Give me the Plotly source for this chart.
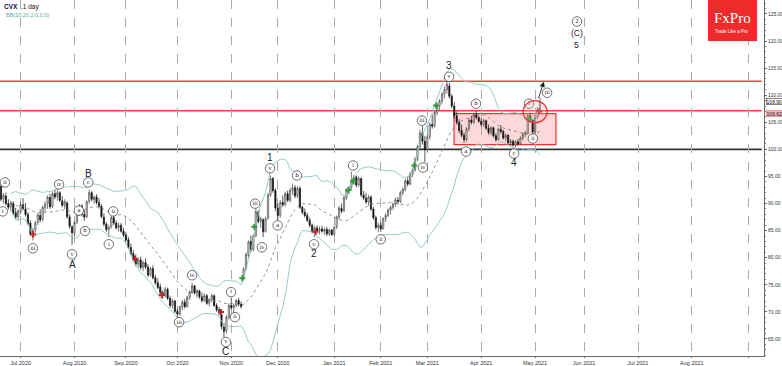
import plotly.graph_objects as go
import pandas as pd

# ---------------- DATA ----------------
opens = [93.2, 90.8, 91.4, 90.0, 89.4, 90.0, 88.3, 87.6, 88.5, 89.8,
         89.0, 88.0, 86.4, 84.3, 85.1, 86.5, 87.8, 87.0, 89.2, 89.9,
         91.1, 89.5, 91.8, 91.3, 92.0, 90.5, 89.6, 90.1, 87.5, 85.7,
         84.5, 86.6, 88.6, 89.5, 88.0, 87.6, 90.4, 92.0, 90.7, 91.2,
         90.2, 89.5, 87.5, 86.2, 85.2, 85.7, 87.4, 86.4, 85.6, 86.0,
         84.9, 84.2, 83.3, 81.9, 80.8, 79.8, 78.9, 79.6, 78.2, 79.1,
         78.3, 76.9, 78.0, 76.3, 75.4, 74.6, 73.6, 73.0, 74.2, 72.5,
         71.2, 72.0, 70.1, 69.6, 70.9, 71.8, 71.0, 72.7, 73.7, 74.8,
         73.5, 73.9, 72.8, 72.1, 73.0, 71.6, 72.2, 73.0, 71.2, 70.4,
         69.5, 67.2, 66.5, 69.0, 71.2, 70.8, 71.2, 72.1, 71.4, 76.4,
         78.0, 80.5, 83.0, 81.5, 84.0, 88.4, 86.7, 87.0, 84.9, 87.3,
         91.6, 94.6, 92.4, 89.2, 87.8, 90.2, 89.8, 91.8, 90.6, 92.4,
         92.9, 91.4, 92.8, 89.3, 88.4, 87.8, 86.9, 86.0, 84.8, 85.5,
         85.0, 85.3, 84.9, 85.2, 84.4, 85.1, 84.3, 85.7, 87.5, 89.1,
         88.7, 91.1, 92.4, 93.0, 94.2, 94.9, 93.4, 94.6, 91.6, 91.0,
         90.3, 91.2, 89.0, 87.4, 85.6, 86.0, 85.4, 87.2, 87.8, 88.8,
         89.3, 89.9, 90.6, 90.4, 92.0, 92.6, 94.2, 93.6, 95.5, 96.2,
         98.2, 100.5, 103.0, 101.5, 100.0, 102.3, 104.6, 104.3, 106.8, 108.0,
         108.9, 110.2, 111.0, 111.7, 109.8, 108.0, 106.2, 105.0, 103.5, 102.6,
         101.8, 103.8, 105.4, 105.0, 106.4, 105.9, 105.2, 104.6, 105.3, 103.9,
         103.1, 104.0, 102.5, 101.8, 103.7, 103.3, 102.1, 102.6, 101.2, 101.5,
         100.8, 101.4, 101.0, 102.1, 102.8, 103.0, 106.2, 105.4, 103.2, 106.0,
         107.4]
highs = [93.8, 91.9, 92.0, 90.8, 90.5, 90.4, 89.2, 88.9, 90.3, 91.0,
         90.1, 88.4, 86.9, 85.5, 86.8, 88.2, 88.9, 89.6, 90.4, 91.5,
         91.8, 92.2, 92.7, 92.6, 92.3, 91.4, 90.8, 90.4, 88.0, 86.0,
         86.8, 88.9, 89.9, 89.9, 88.8, 90.6, 92.6, 92.3, 91.5, 91.7,
         91.0, 89.9, 88.2, 86.6, 86.0, 87.8, 88.0, 86.9, 86.5, 86.4,
         85.5, 84.8, 83.8, 82.6, 81.4, 80.6, 80.0, 80.2, 79.5, 79.9,
         78.8, 78.3, 78.6, 76.9, 76.2, 75.2, 74.0, 74.6, 74.5, 73.0,
         72.4, 72.2, 70.6, 71.2, 72.2, 72.4, 73.0, 74.0, 75.4, 75.0,
         74.2, 74.1, 73.6, 73.4, 73.3, 72.5, 73.4, 73.2, 71.6, 70.9,
         69.8, 68.0, 69.4, 71.6, 72.6, 71.5, 72.4, 72.6, 71.9, 78.3,
         81.0, 83.2, 84.1, 84.4, 89.0, 88.8, 87.6, 87.3, 87.6, 92.0,
         95.2, 94.9, 92.8, 90.0, 90.6, 91.5, 92.2, 92.4, 92.9, 93.7,
         93.4, 93.2, 93.2, 89.6, 89.1, 88.3, 87.4, 86.3, 85.9, 86.0,
         85.8, 85.9, 85.6, 85.7, 85.4, 85.3, 85.9, 87.8, 89.6, 90.0,
         91.5, 92.8, 93.3, 95.9, 95.3, 95.1, 95.0, 94.8, 92.3, 92.0,
         91.6, 91.5, 89.4, 87.8, 86.5, 86.6, 87.5, 88.2, 89.1, 89.6,
         90.2, 91.1, 91.2, 92.4, 93.0, 94.6, 95.0, 95.8, 96.6, 98.6,
         100.9, 103.6, 104.3, 102.5, 102.8, 105.0, 106.4, 107.1, 108.6, 109.3,
         110.6, 111.6, 112.6, 112.3, 110.2, 108.7, 107.0, 105.6, 104.6, 103.1,
         104.1, 105.8, 106.2, 106.8, 107.2, 106.2, 105.8, 105.6, 105.5, 104.6,
         104.3, 104.2, 103.0, 104.0, 104.5, 103.6, 102.9, 102.8, 101.9, 101.8,
         101.7, 101.9, 102.4, 103.2, 103.4, 106.6, 106.8, 105.6, 106.4, 107.8,
         109.6]
lows = [90.4, 90.0, 89.6, 88.9, 88.6, 87.8, 87.1, 86.9, 88.0, 88.7,
        87.6, 86.0, 84.0, 83.2, 84.6, 86.0, 86.5, 86.7, 88.5, 89.0,
        89.0, 89.2, 90.8, 90.5, 90.3, 89.3, 89.0, 87.2, 85.4, 82.4,
        84.0, 86.2, 87.7, 87.6, 86.8, 87.3, 90.0, 90.4, 89.9, 89.8,
        89.1, 87.3, 85.8, 84.8, 83.8, 85.4, 86.0, 85.2, 84.8, 84.6,
        83.8, 83.0, 81.6, 80.4, 79.3, 78.4, 78.2, 77.8, 77.5, 77.9,
        76.4, 76.5, 76.0, 75.0, 74.2, 73.2, 72.4, 72.6, 72.2, 70.8,
        70.6, 69.8, 68.9, 69.3, 70.3, 70.6, 70.8, 72.2, 73.3, 73.2,
        72.6, 72.4, 71.7, 71.8, 71.3, 71.0, 71.8, 70.9, 70.0, 69.4,
        66.8, 65.3, 66.0, 68.6, 70.4, 69.7, 70.9, 71.0, 70.6, 75.9,
        77.6, 80.0, 81.0, 81.2, 83.8, 86.3, 85.5, 83.8, 84.6, 87.0,
        91.2, 92.0, 88.6, 87.0, 87.4, 89.4, 89.5, 90.3, 90.2, 91.6,
        91.0, 91.0, 89.0, 88.0, 87.4, 86.6, 85.6, 84.5, 83.8, 84.7,
        84.3, 84.6, 84.2, 84.0, 84.0, 84.0, 84.1, 85.3, 87.0, 88.2,
        88.4, 90.6, 91.7, 92.6, 93.5, 93.0, 93.1, 91.2, 90.7, 89.9,
        89.6, 88.6, 87.0, 85.2, 84.7, 84.8, 85.2, 86.6, 87.5, 88.0,
        88.8, 89.4, 89.8, 90.1, 91.5, 92.3, 93.2, 93.4, 94.9, 95.9,
        97.8, 100.0, 100.9, 97.6, 99.6, 101.8, 103.8, 104.0, 106.3, 107.2,
        108.3, 109.4, 110.3, 109.4, 107.6, 105.6, 104.6, 103.0, 102.2, 101.2,
        101.4, 103.3, 104.6, 104.7, 105.5, 104.9, 104.2, 104.1, 103.6, 102.7,
        102.6, 102.2, 101.4, 101.6, 102.9, 101.8, 101.5, 100.9, 100.6, 100.5,
        100.4, 100.7, 100.8, 101.7, 102.3, 102.8, 105.0, 102.6, 103.0, 105.6,
        107.1]
closes = [90.8, 91.5, 90.0, 89.3, 90.1, 88.2, 87.5, 88.6, 89.8, 89.1,
          88.0, 86.3, 84.4, 85.0, 86.4, 87.9, 87.0, 89.3, 89.8, 91.2,
          89.4, 91.8, 91.2, 92.0, 90.6, 89.7, 90.3, 87.6, 85.8, 84.6,
          86.5, 88.5, 89.6, 88.0, 87.5, 90.3, 92.0, 90.8, 91.2, 90.2,
          89.5, 87.6, 86.2, 85.2, 85.6, 87.4, 86.4, 85.5, 86.0, 84.9,
          84.2, 83.3, 81.9, 80.7, 79.8, 78.8, 79.6, 78.2, 79.1, 78.3,
          76.8, 78.0, 76.3, 75.4, 74.5, 73.6, 73.0, 74.2, 72.5, 71.2,
          72.0, 70.1, 69.6, 70.9, 71.8, 71.0, 72.7, 73.7, 74.8, 73.5,
          73.9, 72.8, 72.1, 73.0, 71.6, 72.2, 73.0, 71.2, 70.4, 69.8,
          67.3, 66.4, 69.0, 71.2, 70.8, 71.2, 72.1, 71.4, 71.0, 77.9,
          80.6, 82.9, 81.5, 84.0, 88.5, 86.7, 87.2, 84.8, 87.2, 91.6,
          94.6, 92.4, 89.2, 87.8, 90.2, 89.8, 91.8, 90.6, 92.4, 92.9,
          91.4, 92.8, 89.3, 88.4, 87.8, 86.9, 86.0, 84.8, 85.5, 85.0,
          85.3, 84.9, 85.2, 84.4, 85.1, 84.3, 85.6, 87.5, 89.2, 88.6,
          91.1, 92.4, 92.9, 94.2, 94.9, 93.4, 94.6, 91.6, 91.0, 90.3,
          91.2, 89.0, 87.4, 85.6, 86.0, 85.3, 87.2, 87.8, 88.8, 89.3,
          89.9, 90.7, 90.4, 92.0, 92.6, 94.2, 93.6, 95.5, 96.2, 98.2,
          100.5, 103.0, 101.5, 100.0, 102.3, 104.6, 104.3, 106.8, 108.0, 108.9,
          110.2, 111.0, 112.0, 109.8, 108.0, 106.2, 105.0, 103.5, 102.6, 101.8,
          103.8, 105.4, 105.0, 106.4, 105.9, 105.2, 104.6, 105.3, 103.9, 103.1,
          104.0, 102.5, 101.8, 103.7, 103.3, 102.1, 102.6, 101.2, 101.5, 100.8,
          101.4, 101.0, 102.1, 102.8, 103.0, 106.2, 105.4, 103.2, 106.0, 107.4,
          108.9]
bars = list(range(len(closes)))

# first trading bar of each month (bar index) and labels
month_bars = [8, 30, 51, 72, 94, 113, 136, 155, 174, 196, 218, 238, 260, 282, 305]
month_labels = ["Jul 2020", "Aug 2020", "Sep 2020", "Oct 2020", "Nov 2020", "Dec 2020",
                "Jan 2021", "Feb 2021", "Mar 2021", "Apr 2021", "May 2021", "Jun 2021",
                "Jul 2021", "Aug 2021", ""]

# wave labels (circled minor) : text, bar, price
wave_text = ["ii", "i", "iii", "iv", "v", "a", "b", "c", "i", "ii",
             "iii", "iv", "v", "i", "ii", "iii", "iv", "v", "a", "b", "c",
             "i", "ii", "iii", "iv", "v", "a", "b", "c", "i", "ii", "iii", "2"]
wave_bar = [1.6, 0.7, 13.0, 23.7, 29.0, 31.8, 34.3, 35.6, 44.0, 45.8,
            72.7, 78.0, 91.8, 93.9, 95.5, 103.7, 106.5, 109.8, 112.9, 120.8, 127.8,
            143.7, 155.0, 171.8, 172.2, 182.9, 189.8, 193.9, 209.4, 215.5, 217.1, 222.9, 235.1]
wave_price = [93.9, 88.55, 81.74, 93.52, 80.64, 88.7, 84.93, 93.9, 82.48, 88.55,
              68.1, 76.77, 64.44, 73.65, 69.04, 89.98, 81.93, 96.5, 85.97, 95.18, 82.48,
              97.02, 83.4, 105.3, 96.65, 113.4, 99.6, 108.43, 99.23, 108.43, 101.99, 110.45, 123.6]

# major wave labels
major_text = ["A", "B", "C", "1", "2", "3", "4", "(C)", "5"]
major_bar = [29.0, 35.6, 91.8, 109.8, 127.8, 182.9, 209.4, 235.1, 235.1]
major_price = [78.8, 95.55, 62.6, 98.5, 80.85, 115.4, 97.57, 121.4, 119.3]
major_size = [10, 10, 10, 10, 10, 10, 10, 8.5, 8.5]

# fractal markers
red_bar = [13.1, 54.7, 65.6, 89.8, 128.4, 219.7]
red_price = [84.3, 79.8, 73.1, 70.0, 84.8, 107.0]
green_bar = [98.5, 103.4, 141.8, 143.8, 168.7, 177.6, 215.5]
green_price = [76.2, 85.7, 92.5, 94.1, 97.0, 108.1, 105.7]

# key levels
res_levels = [112.57, 107.14]
sup_level = 100.0
zone_bars = [184.9, 226.5]
zone_prices = [100.88, 106.59]
circle_bar = [213.1, 222.9]
circle_price = [104.94, 108.98]
arrow_from = (219.2, 109.2)
arrow_to = (221.6, 112.5)
last_price = 108.90
level_label = 106.62

# ---------------- FIGURE ----------------
s = pd.Series(closes)
mid = s.rolling(20, min_periods=5).mean()
sd = s.rolling(20, min_periods=5).std(ddof=0)
upper = mid + 2 * sd
lower = mid - 2 * sd

fig = go.Figure()

band_col = "#8cc6c6"
fig.add_trace(go.Scatter(x=bars, y=upper, mode="lines", line=dict(color=band_col, width=0.9), hoverinfo="skip"))
fig.add_trace(go.Scatter(x=bars, y=lower, mode="lines", line=dict(color=band_col, width=0.9), hoverinfo="skip"))
fig.add_trace(go.Scatter(x=bars, y=mid, mode="lines", line=dict(color="#777777", width=0.8, dash="dot"), hoverinfo="skip"))

fig.add_trace(go.Candlestick(
    x=bars, open=opens, high=highs, low=lows, close=closes,
    increasing=dict(line=dict(color="#444444", width=0.7), fillcolor="#ffffff"),
    decreasing=dict(line=dict(color="#111111", width=0.7), fillcolor="#111111"),
    whiskerwidth=0, hoverinfo="skip"))

fig.add_trace(go.Scatter(x=red_bar, y=red_price, mode="markers",
                         marker=dict(symbol="cross", size=5, color="#c0262b", line=dict(width=0))))
fig.add_trace(go.Scatter(x=green_bar, y=green_price, mode="markers",
                         marker=dict(symbol="cross", size=5, color="#2f9e3a", line=dict(width=0))))

fig.add_trace(go.Scatter(x=wave_bar, y=wave_price, mode="markers+text", text=wave_text,
                         textposition="middle center",
                         textfont=dict(family="DejaVu Serif", size=5.5, color="#222222"),
                         marker=dict(symbol="circle", size=9.5, color="white",
                                     line=dict(color="#333333", width=0.7))))

shapes = []
for lv in res_levels:
    shapes.append(dict(type="line", xref="paper", yref="y", x0=0, x1=0.997, y0=lv, y1=lv,
                       line=dict(color="#ff3b3b", width=1.6), layer="below"))
shapes.append(dict(type="line", xref="paper", yref="y", x0=0, x1=0.997, y0=sup_level, y1=sup_level,
                   line=dict(color="#333333", width=1.6), layer="below"))
shapes.append(dict(type="rect", xref="x", yref="y", x0=zone_bars[0], x1=zone_bars[1],
                   y0=zone_prices[0], y1=zone_prices[1],
                   fillcolor="rgba(250,170,170,0.45)", line=dict(color="#ee3333", width=1.2), layer="below"))
shapes.append(dict(type="circle", xref="x", yref="y", x0=circle_bar[0], x1=circle_bar[1],
                   y0=circle_price[0], y1=circle_price[1],
                   fillcolor="rgba(250,170,170,0.25)", line=dict(color="#ee3333", width=1.3)))
# FxPro logo box
shapes.append(dict(type="rect", xref="paper", yref="paper", x0=0.9267, x1=0.9908, y0=0.885, y1=1.0,
                   fillcolor="#ee2a2a", line=dict(width=0)))

annotations = []
for t, bx, py, fs in zip(major_text, major_bar, major_price, major_size):
    annotations.append(dict(x=bx, y=py, xref="x", yref="y", text=t, showarrow=False,
                            font=dict(family="Liberation Sans", size=fs, color="#222222")))
annotations.append(dict(x=arrow_to[0], y=arrow_to[1], ax=arrow_from[0], ay=arrow_from[1],
                        xref="x", yref="y", axref="x", ayref="y", text="", showarrow=True,
                        arrowhead=2, arrowsize=1.2, arrowwidth=0.9, arrowcolor="#222222"))
annotations.append(dict(x=0.003, y=0.998, xref="paper", yref="paper", xanchor="left", yanchor="top",
                        text="<b>CVX</b>  ,1 day", showarrow=False,
                        font=dict(family="Liberation Sans", size=6.5, color="#111111")))
annotations.append(dict(x=0.005, y=0.972, xref="paper", yref="paper", xanchor="left", yanchor="top",
                        text="BB(20,20,2.0,0,0)", showarrow=False,
                        font=dict(family="Liberation Sans", size=5.5, color="#5aa6a6")))
annotations.append(dict(x=0.9587, y=0.95, xref="paper", yref="paper", text="FxPro", showarrow=False,
                        xanchor="center", yanchor="middle",
                        font=dict(family="Liberation Serif", size=15, color="white")))
annotations.append(dict(x=0.9587, y=0.912, xref="paper", yref="paper", text="Trade Like a Pro",
                        xanchor="center", yanchor="middle",
                        showarrow=False, font=dict(family="Liberation Sans", size=4.5, color="white")))
annotations.append(dict(x=1.002, y=last_price, xref="paper", yref="y", xanchor="left", text="108.90",
                        showarrow=False, bgcolor="white", bordercolor="#333333", borderwidth=0.6,
                        borderpad=0, font=dict(family="Liberation Sans", size=5, color="#111111")))
annotations.append(dict(x=1.002, y=level_label, xref="paper", yref="y", xanchor="left", text="106.62",
                        showarrow=False, bgcolor="#f5b8b8", bordercolor="#e08080", borderwidth=0.6,
                        borderpad=0, font=dict(family="Liberation Sans", size=5, color="#111111")))

fig.update_layout(
    width=782, height=366,
    margin=dict(l=0, r=18, t=0, b=10, autoexpand=False),
    paper_bgcolor="white", plot_bgcolor="white",
    showlegend=False,
    shapes=shapes, annotations=annotations,
    xaxis=dict(range=[-0.41, 311.43], tickvals=month_bars, ticktext=month_labels,
               showgrid=True, gridcolor="#aaaaaa", griddash="dash", gridwidth=0.6,
               zeroline=False, showline=True, linecolor="#666666", linewidth=1, mirror=True,
               ticks="outside", ticklen=1, tickcolor="#666666",
               tickfont=dict(family="Liberation Sans", size=5.5, color="#333333"),
               rangeslider=dict(visible=False), fixedrange=True),
    yaxis=dict(range=[61.86, 127.57], side="right",
               tickvals=[65, 70, 75, 80, 85, 90, 95, 100, 105, 110, 115, 120, 125],
               tickformat=".2f", showgrid=False, zeroline=False,
               showline=True, linecolor="#666666", linewidth=1, mirror=True,
               ticks="outside", ticklen=2, tickcolor="#666666",
               minor=dict(dtick=1, ticks="outside", ticklen=1, tickcolor="#888888"),
               tickfont=dict(family="Liberation Sans", size=5, color="#333333"), fixedrange=True),
)

fig.write_html("out.html", config={"displayModeBar": False},
               post_script="document.body.style.margin='0';document.body.style.padding='0';")
